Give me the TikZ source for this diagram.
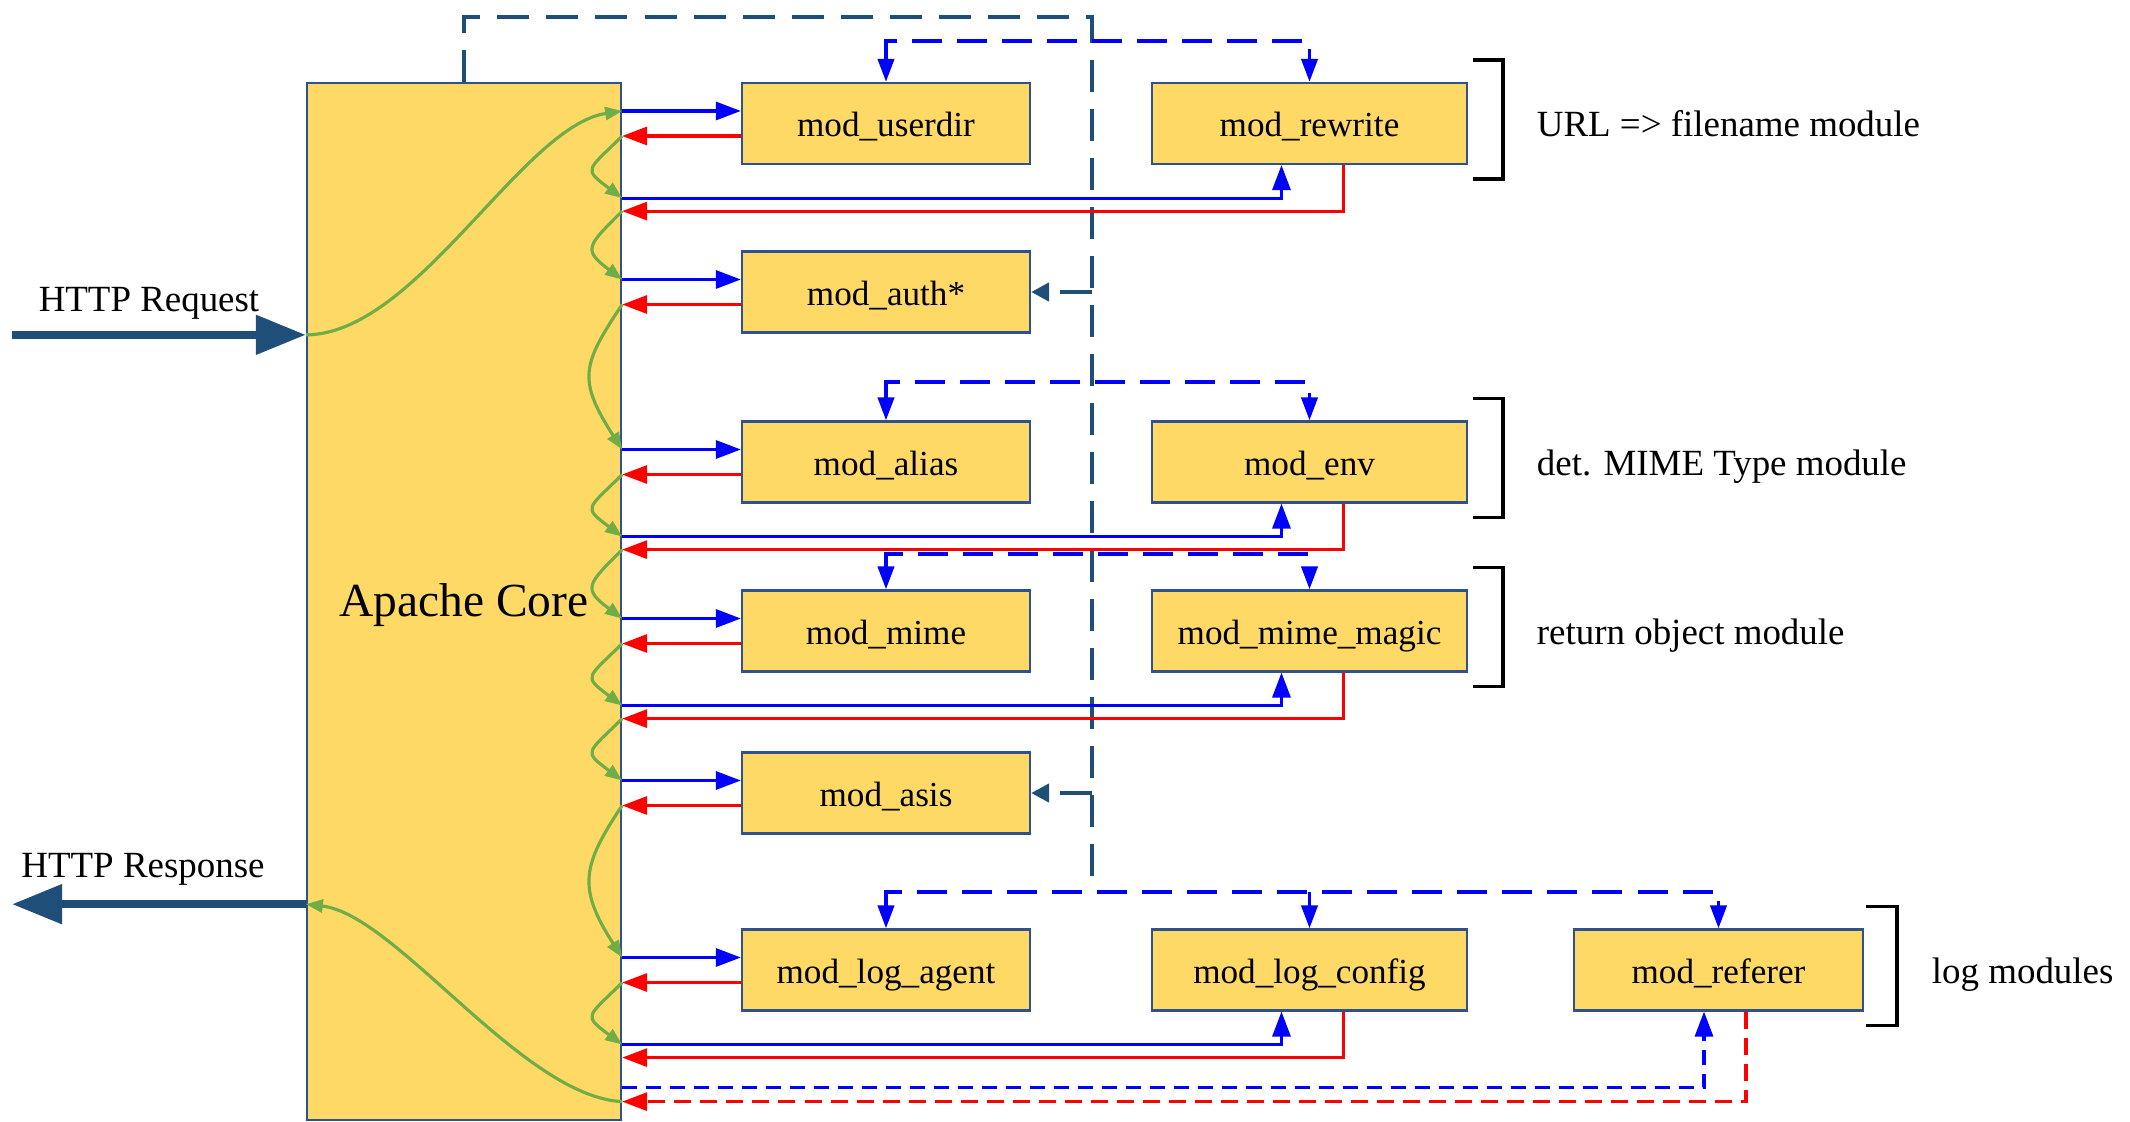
\documentclass[tikz,border=0pt]{standalone}
\usepackage{fontspec}
\setmainfont{Liberation Serif}
\usetikzlibrary{arrows.meta}

\definecolor{boxfill}{HTML}{FFD966}
\definecolor{boxline}{HTML}{2F528F}
\definecolor{darkbus}{HTML}{1F4E79}
\definecolor{flowgreen}{HTML}{70AD47}

\tikzset{
  calltip/.tip={Triangle[length=0.25cm,width=0.18cm]},
  bustip/.tip={Triangle[length=0.23cm,width=0.16cm]},
  ctrltip/.tip={Triangle[length=0.18cm,width=0.18cm]},
  flowtip/.tip={Triangle[length=0.17cm,width=0.13cm]},
  httptip/.tip={Triangle[length=0.5cm,width=0.38cm]}
}

\begin{document}
\begin{tikzpicture}[x=0.01cm, y=-0.01cm, line join=miter,
    module/.style={draw=boxline, fill=boxfill, line width=0.6pt, minimum width=2.88cm, minimum height=0.81cm, inner sep=0pt, text height=8.5pt, text depth=1pt, font=\fontsize{10}{12}\selectfont},
    wide/.style={module, minimum width=3.15cm},
    note/.style={inner sep=0pt, text height=8.5pt, text depth=1pt, font=\fontsize{10.5}{12}\selectfont},
    fwd/.style={blue, line width=0.9pt, -calltip},
    bwd/.style={red, line width=0.9pt, -calltip},
    bus/.style={blue, line width=1.1pt, dash pattern=on 0.3cm off 0.15cm, bustip-bustip},
    ctrl/.style={darkbus, line width=1.3pt, dash pattern=on 0.32cm off 0.17cm},
    flow/.style={flowgreen, line width=0.9pt, -flowtip},
    http/.style={darkbus, line width=2.3pt, -httptip},
    bracket/.style={black, line width=1pt}]
\useasboundingbox (0,0) rectangle (2130,1121);

\node[module, minimum width=3.14cm, minimum height=10.37cm, text height=11.5pt, text depth=2.7pt, font=\fontsize{13.5}{16}\selectfont] (core) at (464,601.5) {Apache Core};

\node[module] (userdir) at (886,123.5) {mod\_userdir};
\node[wide] (rewrite) at (1309.5,123.5) {mod\_rewrite};
\node[module] (auth) at (886,292) {mod\_auth*};
\node[module] (alias) at (886,462) {mod\_alias};
\node[wide] (env) at (1309.5,462) {mod\_env};
\node[module] (mime) at (886,631) {mod\_mime};
\node[wide] (magic) at (1309.5,631) {mod\_mime\_magic};
\node[module] (asis) at (886,793) {mod\_asis};
\node[module] (logagent) at (886,970) {mod\_log\_agent};
\node[wide] (logconfig) at (1309.5,970) {mod\_log\_config};
\node[module, minimum width=2.89cm] (referer) at (1718.5,970) {mod\_referer};

\node[note] (reqlabel) at (149,298) {HTTP Request};
\node[note] (resplabel) at (143,864) {HTTP Response};
\node[note, anchor=west] (urlnote) at ([xshift=0.68cm]rewrite.east) {URL => filename module};
\node[note, anchor=west] (mimenote) at ([xshift=0.68cm]env.east) {det. MIME Type module};
\node[note, anchor=west] (objnote) at ([xshift=0.68cm]magic.east) {return object module};
\node[note, anchor=west] (lognote) at ([xshift=0.67cm]referer.east) {log modules};

\foreach \m in {rewrite,env,magic}
  \draw[bracket] ([xshift=0.05cm,yshift=0.22cm]\m.north east) -- ++(30,0) |- ([xshift=0.05cm,yshift=-0.14cm]\m.south east);
\draw[bracket] ([xshift=0.02cm,yshift=0.22cm]referer.north east) -- ++(31,0) |- ([xshift=0.02cm,yshift=-0.14cm]referer.south east);

\draw[ctrl] (core.north) |- (1092,17) coordinate (bustop) -- ([yshift=0.36cm]bustop |- logagent.north);
\draw[ctrl, -ctrltip] (bustop |- auth.east) -- (auth.east);
\draw[ctrl, -ctrltip] (bustop |- asis.east) -- (asis.east);

\draw[bus] (userdir.north) -- ++(0,-41) -| (rewrite.north);
\draw[bus] (alias.north) -- ++(0,-38) -| (env.north);
\draw[bus] (mime.north) -- ++(0,-35) -| (magic.north);
\draw[bus] (logagent.north) -- ++(0,-36) -| (referer.north);
\draw[bus, -bustip] ([yshift=0.36cm]logconfig.north) -- (logconfig.north);

\foreach \m in {userdir,auth,alias,mime,asis,logagent}{
  \draw[fwd] ([yshift=0.125cm]\m.west -| core.east) coordinate (in-\m) -- ([yshift=0.125cm]\m.west);
  \draw[bwd] ([yshift=-0.125cm]\m.west) -- ([yshift=-0.125cm]\m.west -| core.east) coordinate (out-\m);
}
\foreach \m in {rewrite,env,magic,logconfig}{
  \draw[fwd] ([yshift=-0.33cm]\m.south -| core.east) coordinate (in-\m) -| ([xshift=-0.28cm]\m.south);
  \draw[bwd] ([xshift=0.34cm]\m.south) |- ([yshift=-0.46cm]\m.south -| core.east) coordinate (out-\m);
}
\draw[fwd, dash pattern=on 0.15cm off 0.09cm] ([yshift=-0.76cm]referer.south -| core.east) -| ([xshift=-0.145cm]referer.south);
\draw[bwd, dash pattern=on 0.17cm off 0.09cm] ([xshift=0.275cm]referer.south) |- ([yshift=-0.9cm]referer.south -| core.east) coordinate (out-referer);

\coordinate (reqin) at ([yshift=2.665cm]core.west);
\coordinate (respout) at ([yshift=-3.025cm]core.west);
\coordinate (reqfrom) at (12,0 |- reqin);
\coordinate (respto) at (12,0 |- respout);
\draw[http] (reqfrom) -- (reqin);
\draw[http] (respout) -- (respto);

\draw[flow] (reqin) .. controls +(110,0) and +(-100,15) .. (in-userdir);
\foreach \a/\b in {userdir/rewrite,rewrite/auth,alias/env,env/mime,mime/magic,magic/asis,logagent/logconfig}
  \draw[flow] (out-\a) .. controls +(-35,35) and +(-40,-30) .. (in-\b);
\foreach \a/\b in {auth/alias,asis/logagent}
  \draw[flow] (out-\a) .. controls +(-40,60) and +(-45,-70) .. (in-\b);
\draw[flow] (out-referer) .. controls +(-100,-5) and +(90,10) .. (respout);
\end{tikzpicture}
\end{document}
